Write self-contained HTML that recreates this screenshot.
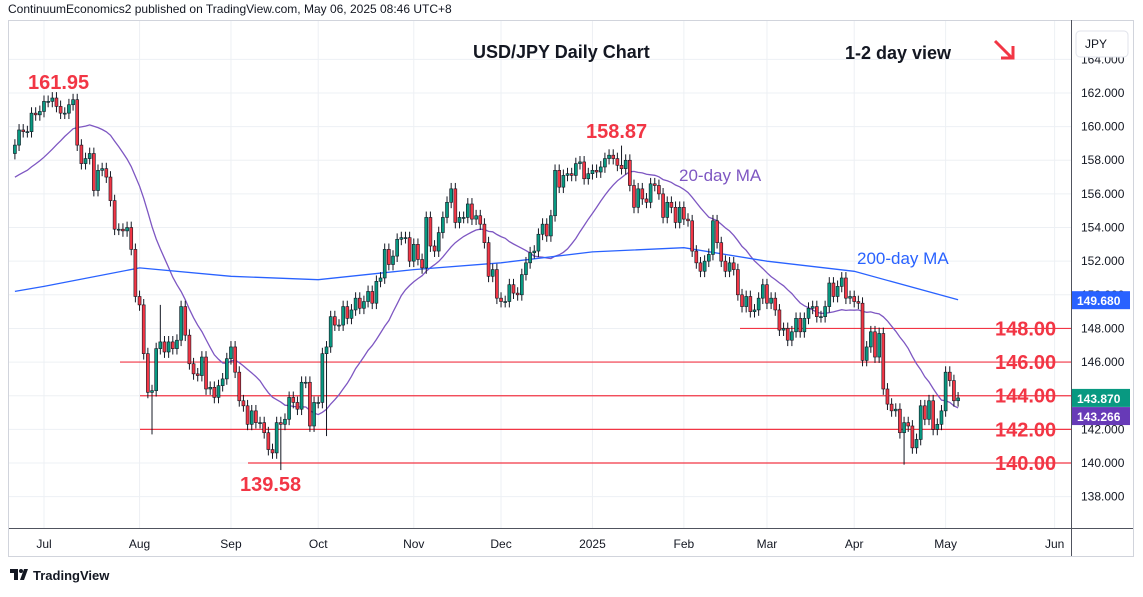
<!DOCTYPE html>
<html><head><meta charset="utf-8"><style>
body{margin:0;width:1143px;height:592px;background:#fff;overflow:hidden;font-family:"Liberation Sans",sans-serif}
</style></head><body>
<svg id="c" width="1143" height="592" xmlns="http://www.w3.org/2000/svg">
<text x="8" y="13" font-size="12" fill="#131722">ContinuumEconomics2 published on TradingView.com, May 06, 2025 08:46 UTC+8</text>
<rect x="8.5" y="20.5" width="1125" height="536" fill="none" stroke="#d1d4dc"/>
<g id="grid"></g><g id="levels"></g><g id="ma"></g><g id="candles"></g><g id="axes"></g>
<text x="473" y="58" font-size="18" font-weight="bold" fill="#131722">USD/JPY Daily Chart</text>
<text x="845" y="59" font-size="18" font-weight="bold" fill="#131722">1-2 day view</text>
<g stroke="#f23645" stroke-width="3" fill="none"><line x1="995" y1="41" x2="1012" y2="58"/><polyline points="1001,58 1013,58 1013,46"/></g>
<text x="28" y="89" font-size="20" font-weight="bold" fill="#f23645">161.95</text>
<text x="586" y="138" font-size="20" font-weight="bold" fill="#f23645">158.87</text>
<text x="240" y="491" font-size="20" font-weight="bold" fill="#f23645">139.58</text>
<text x="679" y="181" font-size="17" fill="#7e57c2">20-day MA</text>
<text x="857" y="264" font-size="17" fill="#2962ff">200-day MA</text>
<g><path d="M10 569h8v11h-4v-7h-4z M20 580l4-11h4l-4 11z" fill="#131722"/><circle cx="21" cy="571" r="2" fill="#131722"/><text x="33" y="580" font-size="13" font-weight="bold" fill="#131722">TradingView</text></g>
</svg>
<script>
const prior=[156.8,157.0,157.0,156.9,157.1,157.2,157.3,156.8,156.9,155.9,156.1,155.6,156.8,157.0,157.4,157.0,157.2,157.0,157.9];
const closes=[158.9,159.8,159.7,159.7,160.8,160.7,160.9,
161.5,161.5,161.7,161.2,160.8,160.8,161.3,161.6,158.9,157.8,158.1,158.4,156.2,157.4,157.5,157.0,155.6,153.9,153.9,153.8,154.0,152.7,149.9,
149.4,146.5,144.2,144.3,146.8,147.2,146.6,147.2,146.8,147.3,149.3,147.6,145.9,145.3,145.2,146.3,144.4,144.5,143.9,144.6,145.0,146.2,
146.9,145.4,143.7,143.4,142.3,143.1,142.4,142.4,141.8,140.8,140.6,142.4,142.3,142.6,143.9,143.6,143.2,144.8,144.8,142.2,143.6,
143.6,146.5,146.9,148.7,148.2,148.2,149.3,148.6,149.1,149.8,149.2,149.6,150.2,149.5,150.8,151.0,152.7,151.8,152.3,153.3,153.4,153.4,152.0,
153.0,152.1,151.6,154.6,152.9,152.6,153.7,154.6,155.5,156.3,154.3,154.6,154.6,155.4,154.5,154.7,154.2,153.1,151.1,151.5,149.8,
149.6,149.6,150.6,150.1,150.0,151.2,151.9,152.5,152.6,153.6,154.2,153.5,154.7,157.4,156.4,157.1,157.2,157.1,157.8,157.9,156.9,157.2,
157.4,157.3,157.6,158.1,158.3,158.1,157.7,157.5,158.0,156.5,155.2,156.3,155.7,155.5,156.6,156.5,156.0,154.6,155.5,155.2,154.3,155.2,
154.5,154.4,152.6,151.9,151.4,152.0,152.4,154.4,153.1,152.0,151.4,151.9,151.5,150.0,149.3,149.9,149.0,149.1,149.8,150.6,
149.5,149.8,149.1,147.9,148.0,147.3,147.8,148.6,147.8,148.6,149.2,149.3,148.7,148.7,149.3,150.7,149.9,150.5,151.0,149.8,149.9,
149.6,149.5,146.1,146.9,147.8,146.3,147.7,144.4,143.5,143.1,143.2,141.8,142.4,142.2,140.9,141.4,143.4,142.6,143.7,142.0,142.3,143.1,
145.4,144.9,143.7,143.87];
const extremes={high:{15:161.95,146:158.87,35:149.4},low:{33:141.7,64:139.58,214:139.9,75:141.6}};
const ma200Pts=[[0,150.2],[7,150.5],[30,151.6],[52,151.1],[73,150.9],[96,151.5],[117,151.9],[139,152.55],[161,152.8],[181,152.0],[202,151.4],[227,149.7]];
const months=["Jul","Aug","Sep","Oct","Nov","Dec","2025","Feb","Mar","Apr","May","Jun"];
const priceTicks=[138,140,142,144,146,148,150,152,154,156,158,160,162,164];
const levels=[[148,740],[146,120],[144,140],[142,140],[140,248]];
const y=p=>463-(p-140)*16.82;
const S=4.155,X0=14.9;const x=i=>X0+i*S;
const NS="http://www.w3.org/2000/svg";
function mk(t,a,parent){const e=document.createElementNS(NS,t);for(const k in a)e.setAttribute(k,a[k]);document.getElementById(parent).appendChild(e);return e;}
// dates
const dates=[];let d=new Date(2024,5,20);
while(dates.length<closes.length){const w=d.getDay();const hol=(d.getMonth()===0&&d.getDate()===1);if(w>0&&w<6&&!hol)dates.push(new Date(d));d.setDate(d.getDate()+1);}
// grid
priceTicks.forEach(p=>{if(y(p)<22)return;const l=mk('line',{x1:9,x2:1071,y1:y(p),y2:y(p),stroke:'#edf0f4'},'grid');


const t=mk('text',{x:1081,y:y(p)+4,'font-size':12,fill:'#131722'},'axes');t.textContent=p.toFixed(3);

});
let mi=0;const monthX=[];
for(let i=1;i<dates.length;i++){if(dates[i].getMonth()!==dates[i-1].getMonth())monthX.push(x(i));}
monthX.push(x(dates.length-1)+4*S+ (dates.length>0?80:0)*0+4*S*4-4*S*4+ (1038-(x(dates.length-1)))) ;
monthX.forEach((mx,k)=>{const l=mk('line',{x1:mx,x2:mx,y1:21,y2:528,stroke:'#edf0f4'},'grid');


const t=mk('text',{x:mx,y:548,'font-size':12,fill:'#131722','text-anchor':'middle'},'axes');t.textContent=months[k];

});
mk('line',{x1:1071.5,x2:1071.5,y1:20,y2:556,stroke:'#50535e'},'axes');
mk('line',{x1:9,x2:1133,y1:528.5,y2:528.5,stroke:'#50535e'},'axes');
// JPY box
const jb=mk('rect',{x:1076,y:31,width:52,height:26,rx:4,fill:'#fff',stroke:'#e0e3eb'},'axes');


const jt=mk('text',{x:1085,y:48,'font-size':12,fill:'#131722'},'axes');jt.textContent='JPY';
// levels
levels.forEach(([p,x1])=>{const l=mk('line',{x1:x1,x2:1071,y1:y(p),y2:y(p),stroke:'#f23645','stroke-width':1.2},'levels');


const t=mk('text',{x:995,y:y(p)+7,'font-size':20,'font-weight':'bold',fill:'#f23645'},'levels');t.textContent=p.toFixed(2);

});
// 20MA
const all=prior.concat(closes);let pts=[];
for(let i=0;i<closes.length;i++){const j=i+prior.length;let s=0;for(let k=j-19;k<=j;k++)s+=all[k];pts.push(x(i).toFixed(1)+','+y(s/20).toFixed(1));}
const m20=mk('polyline',{points:pts.join(' '),fill:'none',stroke:'#7e57c2','stroke-width':1.3},'ma');


const m200=mk('polyline',{points:ma200Pts.map(([i,p])=>x(i).toFixed(1)+','+y(p).toFixed(1)).join(' '),fill:'none',stroke:'#2962ff','stroke-width':1.3},'ma');


// candles
for(let i=0;i<closes.length;i++){const c=closes[i],o=i?closes[i-1]:158.4;
const hi=extremes.high[i]??Math.max(o,c)+0.35,lo=extremes.low[i]??Math.min(o,c)-0.35;
const col=c>=o?'#089981':'#f23645';
const w=mk('line',{x1:x(i),x2:x(i),y1:y(hi),y2:y(lo),stroke:'#131722','stroke-width':1},'candles');


const top=y(Math.max(o,c)),h=Math.max(1,Math.abs(y(o)-y(c)));
const b=mk('rect',{x:x(i)-1.5,y:top,width:3,height:h,fill:col,stroke:'#131722','stroke-width':0.6},'candles');

}
// price tags
[[149.68,'#2962ff','149.680',0],[143.266,'#673ab7','143.266',8],[143.87,'#089981','143.870',0]].forEach(([p,col,txt,off])=>{
const r=mk('rect',{x:1072,y:y(p)-9+off,width:58,height:18,fill:col},'axes');


const t=mk('text',{x:1077,y:y(p)+5+off,'font-size':12,fill:'#fff','font-weight':'bold'},'axes');t.textContent=txt;

});
</script>
</body></html>
